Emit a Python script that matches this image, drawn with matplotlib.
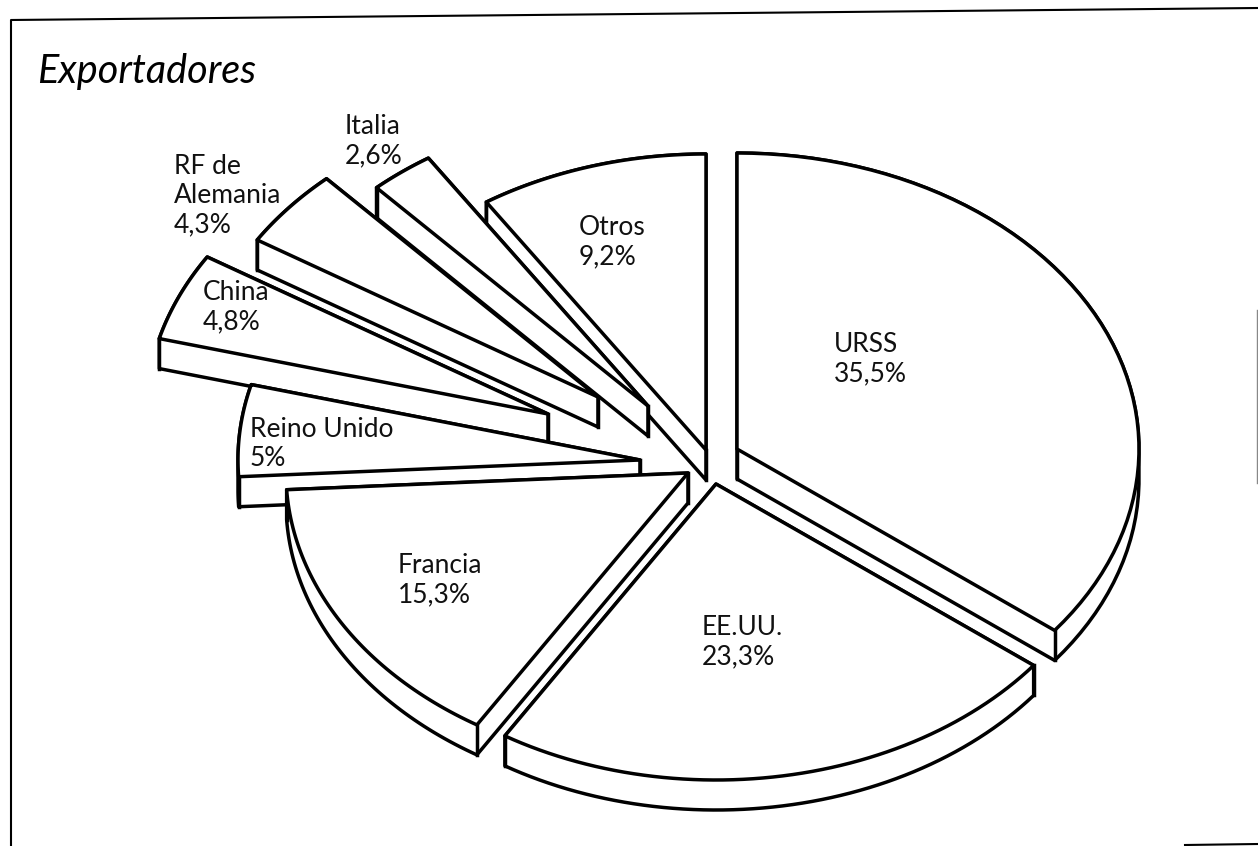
import numpy as np
import matplotlib
matplotlib.use("Agg")
import matplotlib.pyplot as plt

# data, clockwise from twelve o'clock
paises = ["URSS", "EE.UU.", "Francia", "Reino Unido", "China", "RF de\nAlemania", "Italia", "Otros"]
valores = [35.5, 23.3, 15.3, 5.0, 4.8, 4.3, 2.6, 9.2]
etiquetas = ["35,5%", "23,3%", "15,3%", "5%", "4,8%", "4,3%", "2,6%", "9,2%"]

# layout in image pixels
vertices_x = [737, 716, 688, 640, 548, 598, 648, 706]
vertices_y = [449, 484, 473, 460, 414, 397, 406, 450]
texto_x = [834, 702, 398, 250, 203, 174, 345, 579]
texto_y = [332, 615, 553, 417, 280, 154, 114, 215]
orden = [7, 6, 5, 4, 3, 2, 1, 0]
rx, ry, grueso = 402, 296, 30

def hull(puntos):
    # convex hull, the wedges are all under 180 degrees
    pts = sorted(set(map(tuple, np.round(puntos, 3))))
    def mitad(seq):
        r = []
        for p in seq:
            while len(r) > 1 and (r[-1][0]-r[-2][0])*(p[1]-r[-2][1]) - (r[-1][1]-r[-2][1])*(p[0]-r[-2][0]) <= 0:
                r.pop()
            r.append(p)
        return r[:-1]
    return np.array(mitad(pts) + mitad(pts[::-1]))

fig = plt.figure(figsize=(12.58, 8.46), dpi=100)
ax = fig.add_axes([0, 0, 1, 1])
ax.set_xlim(0, 1258)
ax.set_ylim(846, 0)
ax.axis("off")

# scanned frame and the marks the scan left behind
ax.plot([11, 11, 1258], [846, 20, 8], color="black", lw=1.5)
ax.plot([1185, 1258], [845, 844], color="black", lw=1.5)
ax.plot([1257, 1257], [310, 483], color="#888888", lw=1)
ax.plot([812], [198], marker="o", ms=2.5, color="black")

fines = np.cumsum(valores) / np.sum(valores) * 2 * np.pi
inicios = np.concatenate([[0], fines[:-1]])

for i in orden:
    t = np.linspace(inicios[i], fines[i], 60)
    x = vertices_x[i] + rx * np.sin(t)
    y = vertices_y[i] - ry * np.cos(t)
    sup = np.column_stack([np.r_[vertices_x[i], x], np.r_[vertices_y[i], y]])
    inf = sup + [0, grueso]
    cuerpo = hull(np.vstack([sup, inf]))
    ax.fill(cuerpo[:, 0], cuerpo[:, 1], fc="white", ec="black", lw=2.5, joinstyle="round", zorder=2)
    # vertical edges at the wedge corners that face the viewer
    for p, q in [(sup[0], inf[0]), (sup[1], inf[1]), (sup[-1], inf[-1])]:
        if np.min(np.hypot(*(cuerpo - q).T)) < 0.01:
            ax.plot([p[0], q[0]], [p[1], q[1]], color="black", lw=2.5, zorder=2)
    ax.fill(sup[:, 0], sup[:, 1], fc="white", ec="black", lw=2.5, joinstyle="round", zorder=2)

fuente = ["Lato", "DejaVu Sans"]
for i in range(len(paises)):
    ax.text(texto_x[i], texto_y[i], paises[i] + "\n" + etiquetas[i], fontsize=19, family=fuente,
            color="#111111", ha="left", va="top", linespacing=1.2, zorder=3)

ax.text(37, 83, "Exportadores", fontsize=28.5, family=fuente, style="italic", color="black",
        ha="left", va="baseline", zorder=3)

fig.savefig("out.png", dpi=100)
